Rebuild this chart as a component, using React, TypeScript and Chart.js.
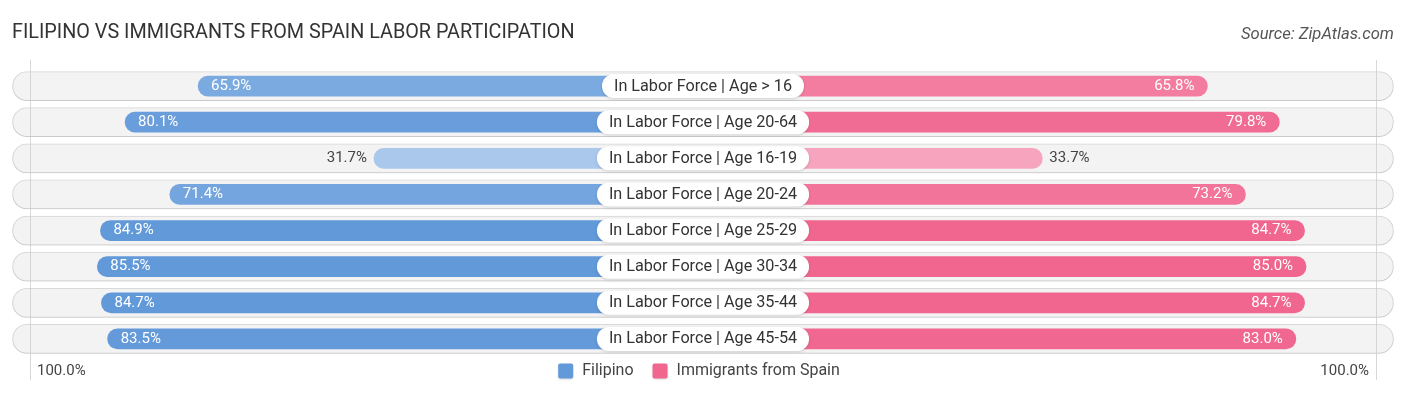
import React, { useEffect, useRef } from "react";
import { Chart, registerables } from "chart.js";

Chart.register(...registerables);

const TITLE = "FILIPINO VS IMMIGRANTS FROM SPAIN LABOR PARTICIPATION";
const SOURCE = "Source: ZipAtlas.com";
const CATEGORIES = [
  "In Labor Force | Age > 16",
  "In Labor Force | Age 20-64",
  "In Labor Force | Age 16-19",
  "In Labor Force | Age 20-24",
  "In Labor Force | Age 25-29",
  "In Labor Force | Age 30-34",
  "In Labor Force | Age 35-44",
  "In Labor Force | Age 45-54",
];
const FILIPINO = [65.9, 80.1, 31.7, 71.4, 84.9, 85.5, 84.7, 83.5];
const SPAIN = [65.8, 79.8, 33.7, 73.2, 84.7, 85.0, 84.7, 83.0];
const SERIES_LABELS = ["Filipino", "Immigrants from Spain"];
const AXIS_LABELS = ["100.0%", "100.0%"];

// layout constants (scale units)
const OFFSET = 32.3; // room under the centre label
const HALF = 134.4; // half width of the scale
const GRID = 130.9; // faint guide lines

const BLUE_LIGHT = [170, 201, 236];
const BLUE_DARK = [98, 153, 217];
const PINK_LIGHT = [247, 168, 194];
const PINK_DARK = [240, 102, 143];

function mix(a: number[], b: number[], v: number) {
  const t = Math.max(0, Math.min(1, (v - 31) / (85 - 31)));
  const c = a.map((x, i) => Math.round(x + (b[i] - x) * t));
  return `rgb(${c[0]},${c[1]},${c[2]})`;
}

const FONT = "Roboto, 'Noto Sans', sans-serif";

function roundRect(ctx: CanvasRenderingContext2D, x: number, y: number, w: number, h: number, r: number) {
  ctx.beginPath();
  ctx.moveTo(x + r, y);
  ctx.lineTo(x + w - r, y);
  ctx.arc(x + w - r, y + r, r, -Math.PI / 2, 0);
  ctx.lineTo(x + w, y + h - r);
  ctx.arc(x + w - r, y + h - r, r, 0, Math.PI / 2);
  ctx.lineTo(x + r, y + h);
  ctx.arc(x + r, y + h - r, r, Math.PI / 2, Math.PI);
  ctx.lineTo(x, y + r);
  ctx.arc(x + r, y + r, r, Math.PI, Math.PI * 1.5);
  ctx.closePath();
}

const overlayPlugin = {
  id: "overlay",
  beforeDatasetDraw(chart: any, args: any) {
    if (args.index === 0) {
      const ctx = chart.ctx;
      ctx.save();
      ctx.shadowColor = "rgba(0,0,0,0.13)";
      ctx.shadowBlur = 3;
      ctx.shadowOffsetY = 1;
    }
  },
  afterDatasetDraw(chart: any, args: any) {
    if (args.index === 0) {
      chart.ctx.restore();
      // guide lines
      const ctx = chart.ctx;
      const xs = chart.scales.x;
      const area = chart.chartArea;
      ctx.save();
      ctx.strokeStyle = "rgba(200,200,200,0.7)";
      ctx.lineWidth = 1;
      [-GRID, GRID].forEach((v) => {
        const px = Math.round(xs.getPixelForValue(v)) + 0.5;
        ctx.beginPath();
        ctx.moveTo(px, area.top - 8);
        ctx.lineTo(px, area.bottom + 23);
        ctx.stroke();
      });
      ctx.restore();
    }
  },
  afterDatasetsDraw(chart: any) {
    const ctx: CanvasRenderingContext2D = chart.ctx;
    const xs = chart.scales.x;
    const ys = chart.scales.y;
    const area = chart.chartArea;
    const cx = xs.getPixelForValue(0);
    ctx.save();
    CATEGORIES.forEach((cat, i) => {
      const y = ys.getPixelForValue(i);
      // centre label
      ctx.font = `16.2px ${FONT}`;
      const tw = ctx.measureText(cat).width;
      const w = tw + 24;
      const h = 24;
      ctx.save();
      ctx.shadowColor = "rgba(0,0,0,0.15)";
      ctx.shadowBlur = 3;
      ctx.shadowOffsetY = 1;
      ctx.fillStyle = "#ffffff";
      roundRect(ctx, cx - w / 2, y - h / 2, w, h, h / 2);
      ctx.fill();
      ctx.restore();
      ctx.fillStyle = "#333333";
      ctx.textAlign = "center";
      ctx.textBaseline = "middle";
      ctx.fillText(cat, cx, y + 0.5);

      // values
      ctx.font = `15px ${FONT}`;
      const lv = FILIPINO[i];
      const lx = xs.getPixelForValue(-(OFFSET + lv));
      if (lv > 45) {
        ctx.fillStyle = "#ffffff";
        ctx.textAlign = "left";
        ctx.fillText(lv.toFixed(1) + "%", lx + 13, y);
      } else {
        ctx.fillStyle = "#444444";
        ctx.textAlign = "right";
        ctx.fillText(lv.toFixed(1) + "%", lx - 7, y);
      }
      const rv = SPAIN[i];
      const rx = xs.getPixelForValue(OFFSET + rv);
      if (rv > 45) {
        ctx.fillStyle = "#ffffff";
        ctx.textAlign = "right";
        ctx.fillText(rv.toFixed(1) + "%", rx - 13, y);
      } else {
        ctx.fillStyle = "#444444";
        ctx.textAlign = "left";
        ctx.fillText(rv.toFixed(1) + "%", rx + 7, y);
      }
    });

    // axis end labels
    const by = area.bottom + 14;
    ctx.font = `15px ${FONT}`;
    ctx.fillStyle = "#444444";
    ctx.textBaseline = "middle";
    ctx.textAlign = "left";
    ctx.fillText(AXIS_LABELS[0], xs.getPixelForValue(-GRID) + 7, by);
    ctx.textAlign = "right";
    ctx.fillText(AXIS_LABELS[1], xs.getPixelForValue(GRID) - 7, by);

    // legend
    ctx.font = `16px ${FONT}`;
    const colors = [mix(BLUE_LIGHT, BLUE_DARK, 85), mix(PINK_LIGHT, PINK_DARK, 85)];
    const box = 15;
    const gapText = 9;
    const gapItem = 19;
    const widths = SERIES_LABELS.map((s) => ctx.measureText(s).width);
    const total = widths.reduce((a, w) => a + box + gapText + w, 0) + gapItem * (SERIES_LABELS.length - 1);
    let x = cx - total / 2 - 4;
    SERIES_LABELS.forEach((s, k) => {
      ctx.save();
      ctx.shadowColor = "rgba(0,0,0,0.15)";
      ctx.shadowBlur = 2;
      ctx.shadowOffsetY = 1;
      ctx.fillStyle = colors[k];
      roundRect(ctx, x, by - box / 2, box, box, 2);
      ctx.fill();
      ctx.restore();
      ctx.fillStyle = "#444444";
      ctx.textAlign = "left";
      ctx.fillText(s, x + box + gapText, by);
      x += box + gapText + widths[k] + gapItem;
    });
    ctx.restore();
  },
};

export default function App() {
  const ref = useRef<HTMLCanvasElement | null>(null);
  useEffect(() => {
    if (!ref.current) return;
    const chart = new Chart(ref.current, {
      type: "bar",
      data: {
        labels: CATEGORIES,
        datasets: [
          {
            label: "bg",
            data: CATEGORIES.map(() => [-HALF + 0.1, HALF - 0.1]) as any,
            backgroundColor: "#f3f3f3",
            borderColor: "#dddddd",
            borderWidth: 1,
            borderRadius: 15,
            borderSkipped: false,
            barThickness: 29,
            grouped: false,
            order: 3,
          },
          {
            label: SERIES_LABELS[0],
            data: FILIPINO.map((v) => [-(OFFSET + v), 0]) as any,
            backgroundColor: FILIPINO.map((v) => mix(BLUE_LIGHT, BLUE_DARK, v)),
            borderRadius: 10,
            borderSkipped: false,
            barThickness: 20,
            grouped: false,
            order: 1,
          },
          {
            label: SERIES_LABELS[1],
            data: SPAIN.map((v) => [0, OFFSET + v]) as any,
            backgroundColor: SPAIN.map((v) => mix(PINK_LIGHT, PINK_DARK, v)),
            borderRadius: 10,
            borderSkipped: false,
            barThickness: 20,
            grouped: false,
            order: 2,
          },
        ],
      },
      options: {
        indexAxis: "y",
        responsive: false,
        animation: false,
        layout: { padding: { top: 68, bottom: 38, left: 12, right: 12 } },
        scales: {
          x: { type: "linear", min: -HALF, max: HALF, display: false },
          y: { type: "category", display: false },
        },
        plugins: {
          legend: { display: false },
          tooltip: { enabled: false },
          title: { display: false },
        },
      },
      plugins: [overlayPlugin],
    });
    return () => chart.destroy();
  }, []);

  return (
    <div style={{ position: "absolute", left: 0, top: 0, width: 1406, height: 395, background: "#ffffff" }}>
      <div
        style={{
          position: "absolute",
          left: 12,
          top: 20,
          fontFamily: FONT,
          fontSize: 19.8,
          color: "#333333",
          whiteSpace: "nowrap",
          lineHeight: "24px",
        }}
      >
        {TITLE}
      </div>
      <div
        style={{
          position: "absolute",
          right: 12,
          top: 22,
          fontFamily: FONT,
          fontSize: 16.6,
          fontStyle: "italic",
          color: "#555555",
          whiteSpace: "nowrap",
          lineHeight: "24px",
        }}
      >
        {SOURCE}
      </div>
      <canvas ref={ref} width={1406} height={395} style={{ display: "block" }} />
    </div>
  );
}
